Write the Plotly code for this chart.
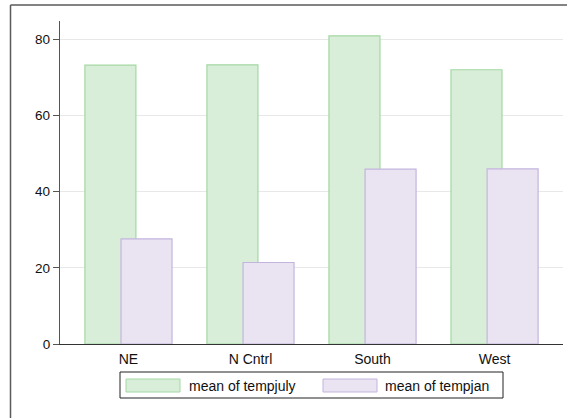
import plotly.graph_objects as go

categories = ["NE", "N Cntrl", "South", "West"]
tempjuly = [73.2, 73.3, 80.9, 72.0]
tempjan = [27.6, 21.4, 45.9, 46.0]
series_names = ["mean of tempjuly", "mean of tempjan"]
y_ticks = [0, 20, 40, 60, 80]

W, H = 567, 418
L, R, T, B = 60, 4, 21, 74
PW, PH = W - L - R, H - T - B

def px_x(x):
    return (x - L) / PW

def px_y(y):
    return (H - B - y) / PH

green_fill = "#d9eed9"
green_line = "#a3d8a3"
purple_fill = "#e9e3f2"
purple_line = "#c3b5de"
frame_col = "#5a5a5a"

fig = go.Figure()
fig.add_trace(go.Bar(x=categories, y=tempjuly, name=series_names[0],
                     width=0.418, offset=-0.357,
                     marker=dict(color=green_fill, line=dict(color=green_line, width=1.2)),
                     showlegend=False))
fig.add_trace(go.Bar(x=categories, y=tempjan, name=series_names[1],
                     width=0.418, offset=-0.061,
                     marker=dict(color=purple_fill, line=dict(color=purple_line, width=1.2)),
                     showlegend=False))

shapes = [
    # outer frame: left and top edges (right/bottom lie outside the window)
    dict(type="line", xref="paper", yref="paper",
         x0=px_x(10.5), x1=px_x(10.5), y0=px_y(420), y1=px_y(5),
         line=dict(color=frame_col, width=1.5)),
    dict(type="line", xref="paper", yref="paper",
         x0=px_x(10.5), x1=px_x(570), y0=px_y(5), y1=px_y(5),
         line=dict(color=frame_col, width=1.5)),
    # legend box
    dict(type="rect", xref="paper", yref="paper",
         x0=px_x(120), x1=px_x(503), y0=px_y(398), y1=px_y(372),
         line=dict(color="#222222", width=1), fillcolor="white"),
    dict(type="rect", xref="paper", yref="paper",
         x0=px_x(126), x1=px_x(180), y0=px_y(392), y1=px_y(379),
         line=dict(color=green_line, width=1), fillcolor=green_fill),
    dict(type="rect", xref="paper", yref="paper",
         x0=px_x(323), x1=px_x(377), y0=px_y(392), y1=px_y(379),
         line=dict(color=purple_line, width=1), fillcolor=purple_fill),
]
annotations = [
    dict(text=series_names[0], xref="paper", yref="paper", x=px_x(187), y=px_y(385.5),
         xanchor="left", yanchor="middle", showarrow=False,
         font=dict(size=14, color="#111111")),
    dict(text=series_names[1], xref="paper", yref="paper", x=px_x(383), y=px_y(385.5),
         xanchor="left", yanchor="middle", showarrow=False,
         font=dict(size=14, color="#111111")),
]

fig.update_layout(
    width=W, height=H,
    margin=dict(l=L, r=R, t=T, b=B, pad=0),
    paper_bgcolor="white", plot_bgcolor="white",
    barmode="overlay",
    font=dict(family="Liberation Sans, Arial, Helvetica, sans-serif", size=14, color="#111111"),
    shapes=shapes, annotations=annotations,
    showlegend=False,
    xaxis=dict(type="category", range=[-0.561, 3.561], showgrid=False,
               showline=True, linecolor="#333333", linewidth=1,
               ticks="", ticklabelstandoff=2, zeroline=False, fixedrange=True,
               tickfont=dict(size=14)),
    yaxis=dict(range=[0, 84.8], tickvals=y_ticks, showgrid=True, gridcolor="#e8e8e8",
               gridwidth=1, showline=True, linecolor="#555555", linewidth=1.3,
               ticks="outside", ticklen=6, tickcolor="#555555", tickwidth=1.3,
               zeroline=False, fixedrange=True, tickfont=dict(size=13.5)),
)

fig.write_html("out.html", config={"displayModeBar": False},
               post_script="document.body.style.margin='0';document.body.style.overflow='hidden';")
